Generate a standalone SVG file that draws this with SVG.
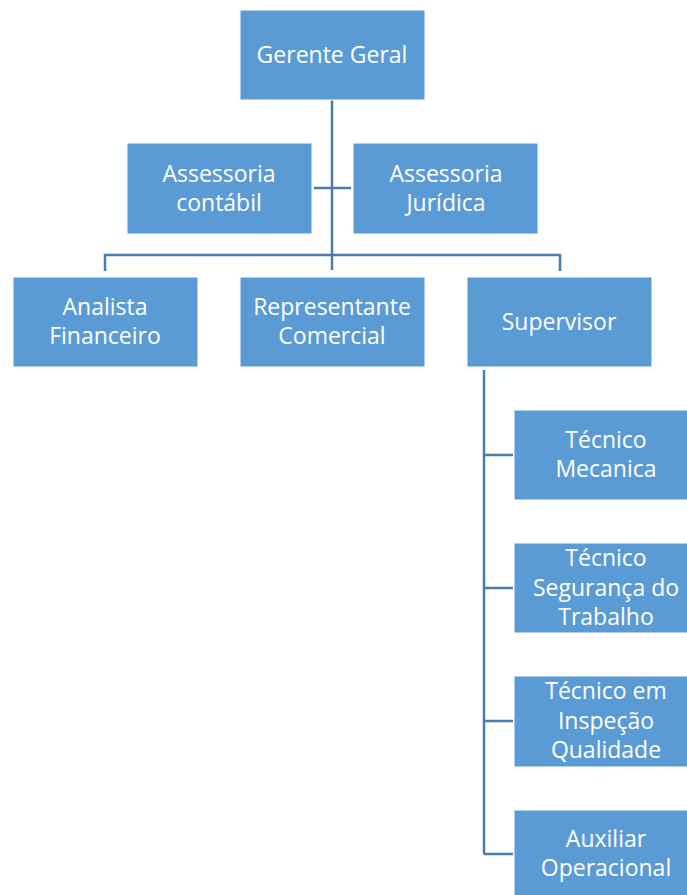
<svg xmlns="http://www.w3.org/2000/svg" width="687" height="895" viewBox="0 0 687 895">
<style>
.box{fill:#5B9BD5;stroke:#FFFFFF;stroke-width:1}
.lbl{fill:#FFFFFF;font-family:"Open Sans","Liberation Sans",sans-serif;font-size:23px;text-anchor:middle;dominant-baseline:central}
.con{fill:none;stroke:#4A7DAE;stroke-width:2.5}
</style>
<rect width="687" height="895" fill="#FFFFFF"/>
<g id="connectors">
<path class="con" d="M332,100 V270"/>
<path class="con" d="M314,188 H351"/>
<path class="con" d="M105,271 V255 H560 V271"/>
<path class="con" d="M484,370 V854"/>
<path class="con" d="M484,455 H513"/>
<path class="con" d="M484,588 H513"/>
<path class="con" d="M484,721 H513"/>
<path class="con" d="M484,854 H513"/>
</g>
<g id="gerente-geral"><rect class="box" x="240" y="10" width="185" height="90"/><text class="lbl" x="332" y="54">Gerente Geral</text></g>
<g id="assessoria-contabil"><rect class="box" x="127" y="143" width="185" height="91"/><text class="lbl" x="219" y="173">Assessoria</text><text class="lbl" x="219" y="202">contábil</text></g>
<g id="assessoria-juridica"><rect class="box" x="353" y="143" width="185" height="91"/><text class="lbl" x="446" y="173">Assessoria</text><text class="lbl" x="446" y="202">Jurídica</text></g>
<g id="analista-financeiro"><rect class="box" x="13" y="277" width="185" height="90"/><text class="lbl" x="105" y="306">Analista</text><text class="lbl" x="105" y="335">Financeiro</text></g>
<g id="representante-comercial"><rect class="box" x="240" y="277" width="185" height="90"/><text class="lbl" x="332" y="306">Representante</text><text class="lbl" x="332" y="335">Comercial</text></g>
<g id="supervisor"><rect class="box" x="467" y="277" width="185" height="90"/><text class="lbl" x="559" y="321">Supervisor</text></g>
<g id="tecnico-mecanica"><rect class="box" x="514" y="410" width="185" height="90"/><text class="lbl" x="606" y="439">Técnico</text><text class="lbl" x="606" y="468">Mecanica</text></g>
<g id="tecnico-seguranca"><rect class="box" x="514" y="543" width="185" height="90"/><text class="lbl" x="606" y="557">Técnico</text><text class="lbl" x="606" y="587">Segurança do</text><text class="lbl" x="606" y="616">Trabalho</text></g>
<g id="tecnico-inspecao"><rect class="box" x="514" y="676" width="185" height="91"/><text class="lbl" x="606" y="690">Técnico em</text><text class="lbl" x="606" y="720">Inspeção</text><text class="lbl" x="606" y="749">Qualidade</text></g>
<g id="auxiliar-operacional"><rect class="box" x="514" y="810" width="185" height="90"/><text class="lbl" x="606" y="838">Auxiliar</text><text class="lbl" x="606" y="867">Operacional</text></g>
</svg>
